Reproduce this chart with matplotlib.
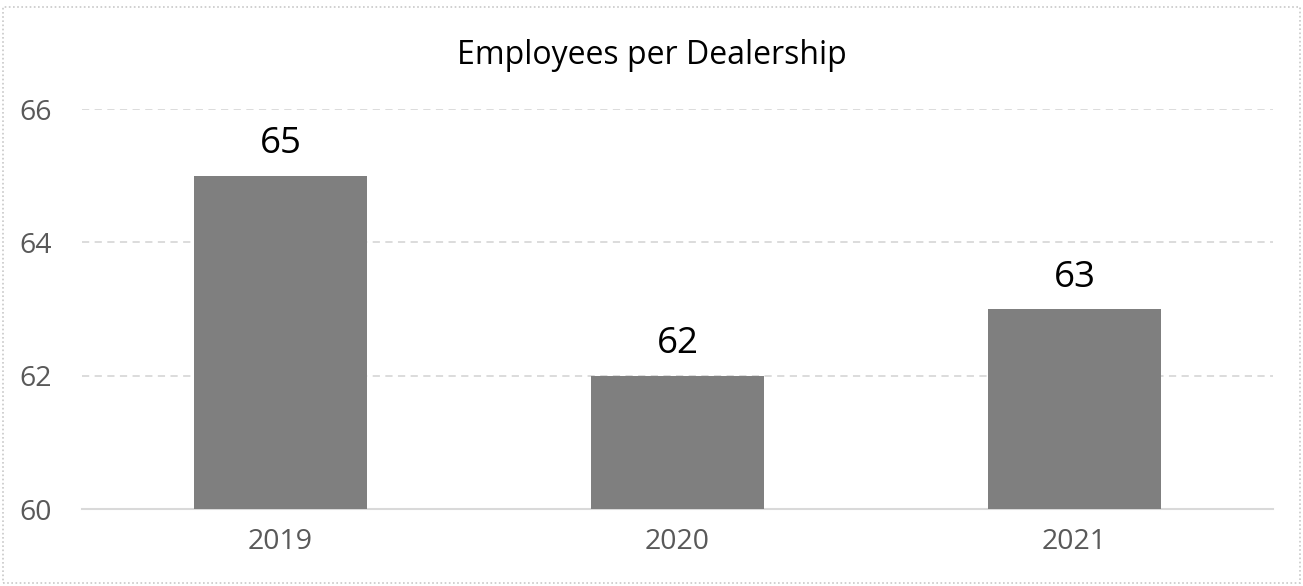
import matplotlib
matplotlib.use("Agg")
import matplotlib.pyplot as plt
from matplotlib.patches import Rectangle

years = ["2019", "2020", "2021"]
employees = [65, 62, 63]
y_ticks = [60, 62, 64, 66]

plt.rcParams['font.family'] = ['Open Sans', 'DejaVu Sans']

fig = plt.figure(figsize=(13.03, 5.86), dpi=100)
ax = fig.add_axes([82 / 1303, 1 - 509 / 586, (1273 - 82) / 1303, 400 / 586])

x = range(len(years))
bars = ax.bar(x, [v - 60 for v in employees], bottom=60, width=0.435,
              color='#7f7f7f', zorder=3)

for xi, v in zip(x, employees):
    ax.text(xi, v + 0.2, str(v), ha='center', va='bottom',
            fontsize=26.5, color='black')

ax.set_xlim(-0.5, len(years) - 0.5)
ax.set_ylim(60, 66)
ax.set_yticks(y_ticks)
ax.set_yticklabels([str(t) for t in y_ticks])
ax.set_xticks(list(x))
ax.set_xticklabels(years)
ax.tick_params(axis='both', length=0, labelsize=20.5, colors='#595959')
ax.tick_params(axis='y', pad=22)
ax.tick_params(axis='x', pad=14)

for t in y_ticks[1:]:
    ax.axhline(t, color='#d9d9d9', linestyle=(0, (4, 3)), linewidth=1.3, zorder=1)

for side in ['top', 'right', 'left']:
    ax.spines[side].set_visible(False)
ax.spines['bottom'].set_color('#d9d9d9')
ax.spines['bottom'].set_linewidth(1.5)

fig.text(0.5, 1 - 55 / 586, "Employees per Dealership", ha='center', va='center',
         fontsize=23, color='black')

# dotted frame around the chart area
fig.patches.append(Rectangle((3 / 1303, 3 / 586), 1297 / 1303, 576 / 586,
                             transform=fig.transFigure, fill=False,
                             edgecolor='#c8c8c8', linestyle=(0, (1, 1.5)),
                             linewidth=1.2))

fig.savefig("out.png", dpi=100)
